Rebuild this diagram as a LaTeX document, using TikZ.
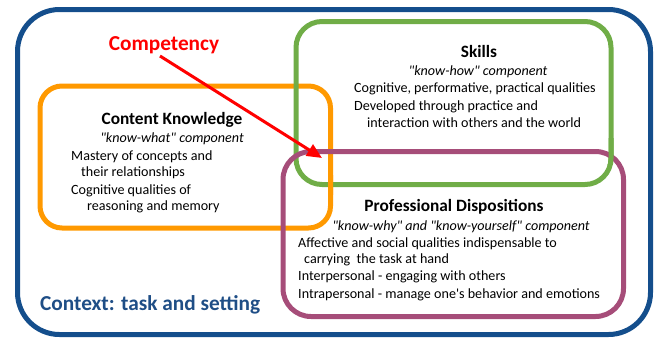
\documentclass[tikz,border=0pt]{standalone}
\usepackage{fontspec}
\setmainfont{Carlito}
\usetikzlibrary{arrows.meta}
\definecolor{ctxblue}{RGB}{20,78,140}
\definecolor{ckorange}{RGB}{255,153,0}
\definecolor{skgreen}{RGB}{112,173,71}
\definecolor{pdmagenta}{RGB}{166,77,121}
\definecolor{ctxtext}{RGB}{31,78,134}
\newcommand{\txtfont}{\fontsize{14.1}{16}\selectfont}
\newcommand{\hdfont}{\fontsize{17.3}{20}\selectfont\bfseries}
\newcommand{\bigfont}{\fontsize{21.3}{25}\selectfont\bfseries}
\newcommand{\qt}[1]{\textquotedbl#1\textquotedbl}
\tikzset{
  frame/.style={line width=5pt,rounded corners=#1},
  heading/.style={anchor=base,inner sep=0pt,font=\hdfont},
  comp/.style={anchor=base,inner sep=0pt,font=\txtfont\itshape},
  item/.style={anchor=base west,inner sep=0pt,font=\txtfont},
  pointer/.style={-{Triangle[length=15pt,width=13pt]},line width=3pt,red}
}

\begin{document}
\begin{tikzpicture}[x=1pt,y=-1pt]
  \useasboundingbox (0,0) rectangle (656,341);

  \draw[frame=42pt,ctxblue] (17.5,9.5) rectangle (650.5,334.5);

  \draw[frame=22pt,ckorange] (40,86) rectangle (330.5,228);
  \draw[frame=26pt,skgreen] (296,21.5) rectangle (611,184.5);
  \draw[frame=28pt,pdmagenta] (283,151.5) rectangle (623.5,316.5);
  % woven crossings
  \begin{scope}
    \clip (320,175) rectangle (341,194);
    \draw[frame=22pt,ckorange] (40,86) rectangle (330.5,228);
  \end{scope}
  \begin{scope}
    \clip (604,138) rectangle (618,164);
    \draw[frame=26pt,skgreen] (296,21.5) rectangle (611,184.5);
  \end{scope}

  \node[heading] (ck) at (172,124) {Content Knowledge};
  \node[comp] (ckc) at (172,142.7) {\qt{know-what} component};
  \node[item] (ck1) at (71,160) {Mastery of concepts and};
  \node[item] (ck2) at (81,176.7) {their relationships};
  \node[item] (ck3) at (71,194) {Cognitive qualities of};
  \node[item] (ck4) at (87,210.7) {reasoning and memory};

  \node[heading] (sk) at (479,57.3) {Skills};
  \node[comp] (skc) at (478,75) {\qt{know-how} component};
  \node[item] (sk1) at (354,92.7) {Cognitive, performative, practical qualities};
  \node[item] (sk2) at (354,110) {Developed through practice and};
  \node[item] (sk3) at (367,127.3) {interaction with others and the world};

  \node[heading] (pd) at (454,211) {Professional Dispositions};
  \node[comp] (pdc) at (461,230) {\qt{know-why} and \qt{know-yourself} component};
  \node[item] (pd1) at (298,247.3) {Affective and social qualities indispensable to};
  \node[item] (pd2) at (304,263.3) {carrying\ \ the task at hand};
  \node[item] (pd3) at (298,280.7) {Interpersonal - engaging with others};
  \node[item] (pd4) at (298,298.3) {Intrapersonal - manage one\textquotesingle s behavior and emotions};

  \node[anchor=base,inner sep=0pt,font=\bigfont,text=red] (cmp) at (164,50) {Competency};
  \coordinate (tip) at (322,158);
  \draw[pointer] ([xshift=-4pt,yshift=-6pt]cmp.base) -- (tip);

  \node[anchor=base west,inner sep=0pt,font=\bigfont,text=ctxtext] (ctx) at (40,310) {Context: task and setting};
\end{tikzpicture}
\end{document}
